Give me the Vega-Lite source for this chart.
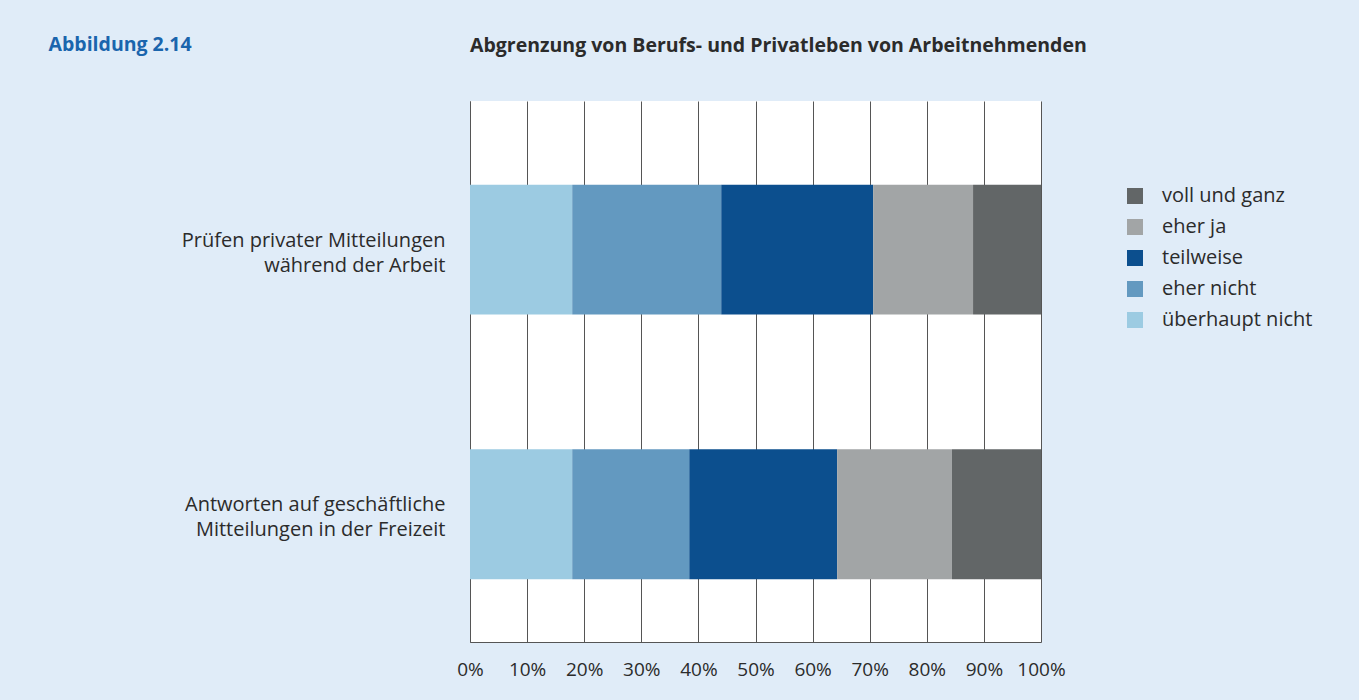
{
  "$schema": "https://vega.github.io/schema/vega-lite/v6.json",
  "autosize": {"type": "none"},
  "width": 571,
  "height": 541,
  "padding": {"left": 470, "top": 101, "right": 318, "bottom": 58},
  "background": "#e0ecf8",
  "title": {
    "text": "Abgrenzung von Berufs- und Privatleben von Arbeitnehmenden",
    "anchor": "start",
    "frame": "group",
    "offset": -31,
    "font": "Open Sans",
    "fontSize": 19.5,
    "fontWeight": "bold",
    "color": "#2b2b2b",
    "baseline": "middle"
  },
  "data": {
    "values": [
      {"q": "Prüfen privater Mitteilungen|während der Arbeit", "a": "überhaupt nicht", "k": 1, "v": 17.9},
      {"q": "Prüfen privater Mitteilungen|während der Arbeit", "a": "eher nicht", "k": 2, "v": 26.1},
      {"q": "Prüfen privater Mitteilungen|während der Arbeit", "a": "teilweise", "k": 3, "v": 26.6},
      {"q": "Prüfen privater Mitteilungen|während der Arbeit", "a": "eher ja", "k": 4, "v": 17.5},
      {"q": "Prüfen privater Mitteilungen|während der Arbeit", "a": "voll und ganz", "k": 5, "v": 11.9},
      {"q": "Antworten auf geschäftliche|Mitteilungen in der Freizeit", "a": "überhaupt nicht", "k": 1, "v": 17.9},
      {"q": "Antworten auf geschäftliche|Mitteilungen in der Freizeit", "a": "eher nicht", "k": 2, "v": 20.5},
      {"q": "Antworten auf geschäftliche|Mitteilungen in der Freizeit", "a": "teilweise", "k": 3, "v": 25.9},
      {"q": "Antworten auf geschäftliche|Mitteilungen in der Freizeit", "a": "eher ja", "k": 4, "v": 20.1},
      {"q": "Antworten auf geschäftliche|Mitteilungen in der Freizeit", "a": "voll und ganz", "k": 5, "v": 15.6}
    ]
  },
  "mark": {"type": "bar"},
  "encoding": {
    "x": {
      "field": "v",
      "type": "quantitative",
      "stack": "zero",
      "scale": {"domain": [0, 100], "nice": false},
      "axis": {
        "title": null,
        "values": [0, 10, 20, 30, 40, 50, 60, 70, 80, 90, 100],
        "labelExpr": "datum.value + '%'",
        "labelOverlap": false,
        "labelFlush": false,
        "grid": true,
        "gridColor": "#555555",
        "gridOpacity": 1,
        "gridWidth": 1,
        "ticks": false,
        "domainColor": "#555555",
        "labelFontSize": 19,
        "labelFont": "Open Sans",
        "labelColor": "#2b2b2b",
        "labelPadding": 18,
        "zindex": 0
      }
    },
    "y": {
      "field": "q",
      "type": "nominal",
      "sort": null,
      "scale": {"paddingInner": 0.509, "paddingOuter": 0.277, "align": 0.571},
      "axis": {
        "title": "Abbildung 2.14",
        "titleAngle": 0,
        "titleX": -422,
        "titleY": -57,
        "titleAlign": "left",
        "titleBaseline": "middle",
        "titleFont": "Open Sans",
        "titleFontSize": 19.5,
        "titleFontWeight": "bold",
        "titleColor": "#1a65ad",
        "labelExpr": "split(datum.label, '|')",
        "labelFontSize": 20,
        "labelFont": "Open Sans",
        "labelColor": "#2b2b2b",
        "labelLineHeight": 25,
        "labelPadding": 25,
        "labelOffset": -9,
        "labelLimit": 400,
        "ticks": false,
        "domainColor": "#555555",
        "zindex": 0
      }
    },
    "color": {
      "field": "a",
      "type": "nominal",
      "scale": {
        "domain": ["voll und ganz", "eher ja", "teilweise", "eher nicht", "überhaupt nicht"],
        "range": ["#626667", "#a2a5a6", "#0c4f8e", "#6399c0", "#9ccbe2"]
      },
      "legend": {
        "title": null,
        "orient": "none",
        "legendX": 655,
        "legendY": 85,
        "symbolType": "square",
        "symbolSize": 256,
        "symbolStrokeWidth": 0,
        "labelFontSize": 20,
        "labelFont": "Open Sans",
        "labelColor": "#2b2b2b",
        "labelOffset": 17,
        "rowPadding": 11
      }
    },
    "order": {"field": "k", "type": "quantitative", "sort": "ascending"}
  },
  "config": {
    "view": {"fill": "white", "stroke": null}
  }
}
